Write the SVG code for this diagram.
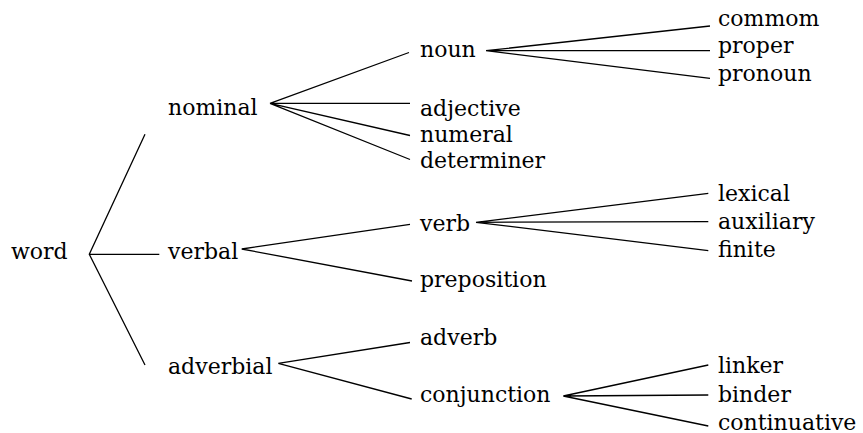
<svg xmlns="http://www.w3.org/2000/svg" width="863" height="433" viewBox="0 0 863 433">
  <style>
    text { font-family: "DejaVu Serif", serif; font-size: 22px; fill: #000; }
    .edge { stroke: #000; stroke-width: 1.3; fill: none; stroke-linecap: butt; }
  </style>
  <rect width="863" height="433" fill="#fff"/>

  <!-- branches -->
  <g id="connectors">
    <!-- word -->
    <path class="edge" d="M145,134.3 L89.3,254.3 L145,365 M89.3,254.3 H159.3"/>
    <!-- nominal -->
    <path class="edge" d="M270,103.3 L409,52.5 M270,103.3 L410,103.3 M270,103.3 L410,135.5 M270,103.3 L410,159.5"/>
    <!-- noun -->
    <path class="edge" d="M486,50.7 L710,26 M486,50.7 L710,50.7 M486,50.7 L710,78.3"/>
    <!-- verbal -->
    <path class="edge" d="M241.7,249 L410,224.3 M241.7,249 L412,281"/>
    <!-- verb -->
    <path class="edge" d="M476,222.3 L708.3,193.3 M476,222.3 L708.3,221.7 M476,222.3 L708.3,250.7"/>
    <!-- adverbial -->
    <path class="edge" d="M278.3,363.3 L410,342.5 M278.3,363.3 L411.7,399"/>
    <!-- conjunction -->
    <path class="edge" d="M563.3,396 L708.3,365 M563.3,396 L708.3,395 M563.3,396 L708.3,426"/>
  </g>

  <g id="word"><text x="11" y="259">word</text></g>

  <g id="nominal"><text x="168" y="115">nominal</text></g>
  <g id="verbal"><text x="168" y="259">verbal</text></g>
  <g id="adverbial"><text x="168" y="374">adverbial</text></g>

  <g id="noun"><text x="420" y="56.7">noun</text></g>
  <g id="adjective"><text x="420" y="115.5">adjective</text></g>
  <g id="numeral"><text x="420" y="142">numeral</text></g>
  <g id="determiner"><text x="420" y="168">determiner</text></g>

  <g id="verb"><text x="420" y="230.7">verb</text></g>
  <g id="preposition"><text x="420" y="286.7">preposition</text></g>

  <g id="adverb"><text x="420" y="345">adverb</text></g>
  <g id="conjunction"><text x="420" y="401.7">conjunction</text></g>

  <g id="commom"><text x="718" y="26">commom</text></g>
  <g id="proper"><text x="718" y="53.3">proper</text></g>
  <g id="pronoun"><text x="718" y="81">pronoun</text></g>

  <g id="lexical"><text x="718" y="200.7">lexical</text></g>
  <g id="auxiliary"><text x="718" y="229">auxiliary</text></g>
  <g id="finite"><text x="718" y="257.3">finite</text></g>

  <g id="linker"><text x="718" y="373.3">linker</text></g>
  <g id="binder"><text x="718" y="401.7">binder</text></g>
  <g id="continuative"><text x="718" y="429.5">continuative</text></g>
</svg>
